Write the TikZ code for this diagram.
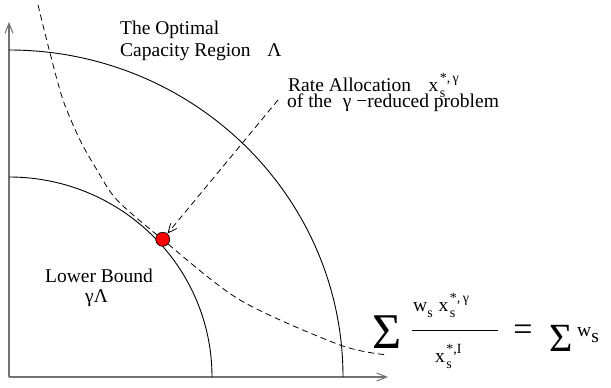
\documentclass[tikz,border=0pt]{standalone}
\usepackage{fontspec}
\setmainfont{Liberation Serif}
\usetikzlibrary{arrows.meta}
\newcommand\xss[1]{x\kern1.5pt\smash{\rlap{\raisebox{-6pt}{\fontsize{14}{14}\selectfont s}}\raisebox{9pt}{\fontsize{14}{14}\selectfont #1}}}
\newcommand\subs{\smash{\raisebox{-6pt}{\fontsize{14}{14}\selectfont s}}}
\begin{document}
\begin{tikzpicture}[x=1pt,y=1pt,
  every node/.style={inner sep=0pt, font=\fontsize{19.5}{22}\selectfont},
  axis/.style={draw=black!55, line width=1.6pt, -{Straight Barb[length=10pt,width=8pt,line width=1pt]}},
  region/.style={draw=black, line width=0.9pt},
  dashcurve/.style={draw=black, line width=0.8pt, dash pattern=on 6pt off 4pt},
  pointer/.style={draw=black, line width=0.8pt, dash pattern=on 6pt off 4pt, -{Straight Barb[length=9pt,width=8pt]}},
  rdot/.style={circle, draw=black, fill=red, line width=0.7pt, minimum size=14pt},
  bigsum/.style={font=\fontsize{50}{50}\selectfont}]
\useasboundingbox (0,0) rectangle (611,388);
% axes
\coordinate (O) at (9,11);
\coordinate (ytop) at (9,366);
\coordinate (xend) at (388,11);
\draw[axis] (O) -- (ytop);
\draw[axis] (O) -- (xend);
% regions
\draw[region] (9,338) arc[start angle=90, end angle=0, x radius=334, y radius=327];
\draw[region] (9,211) arc[start angle=90, end angle=0, x radius=203, y radius=200];
% dashed level curve
\draw[dashcurve] plot[smooth, tension=0.5] coordinates {(38,383) (50,335) (63,288) (80,248) (97,218) (117,188) (162,149) (240,88) (340,43) (388,33)};
% point
\node[rdot] (pt) at (162.7,148.7) {};
% labels
\node[anchor=base west] (opt1) at (120,353) {The Optimal};
\node[anchor=base west] (opt2) at (120,331) {Capacity Region\hspace{0.85em}Λ};
\node[anchor=base west] (rate) at (288,296) {Rate Allocation\hspace{0.9em}\xss{*,\,γ}};
\node[anchor=base west] (reduced) at (287,280) {of the\hspace{0.3em} γ\hspace{0.25em}−reduced problem};
\coordinate (ptr) at (278,288);
\draw[pointer] (ptr) -- (pt);
\node[anchor=base west] (lower) at (45,105) {Lower Bound};
\node[anchor=base west] (gl) at (85,85) {γΛ};
% equation
\node[bigsum] (sum1) at (387.5,55.5) {Σ};
\node[anchor=base west] (num) at (413,76) {w\subs\hspace{6pt}\xss{*,\,γ}};
\coordinate (barL) at (412,58);
\coordinate (barR) at (498,58);
\draw[line width=0.9pt] (barL) -- (barR);
\node[anchor=base west] (den) at (435,25) {\xss{*,I}};
\node[font=\fontsize{34}{34}\selectfont] (eq) at (523,55) {=};
\node[font=\fontsize{40}{40}\selectfont] (sum2) at (561.5,50) {Σ};
\node[anchor=base west] (ws) at (577,51) {w\smash{\raisebox{-6pt}{s}}};
\end{tikzpicture}
\end{document}
